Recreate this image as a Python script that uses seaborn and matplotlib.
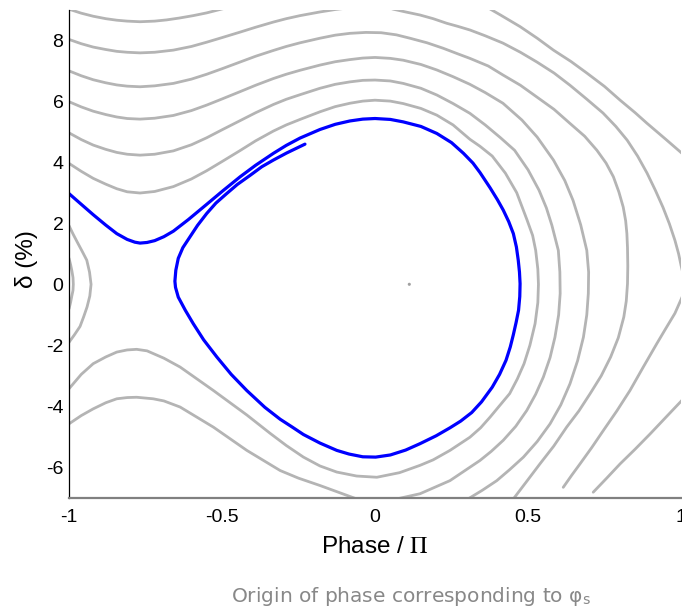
import matplotlib
matplotlib.use("Agg")
import matplotlib.pyplot as plt
import pandas as pd
import seaborn as sns

# Gray phase-space trajectories (phase in units of pi, momentum deviation delta in %)
phase_c1 = [-1.0, -0.96, -0.921, -0.88, -0.844, -0.81, -0.768, -0.72, -0.681, -0.64,
            -0.594, -0.55, -0.507, -0.48]
delta_c1 = [9.01, 8.88, 8.78, 8.70, 8.65, 8.62, 8.60, 8.62, 8.66, 8.72,
            8.80, 8.89, 9.00, 9.07]

phase_c2 = [-1.0, -0.96, -0.921, -0.88, -0.844, -0.81, -0.768, -0.72, -0.659, -0.60,
            -0.55, -0.50, -0.441, -0.39, -0.332, -0.29, -0.245, -0.18, -0.13, -0.082,
            0.0, 0.06, 0.10, 0.147, 0.19, 0.234, 0.27, 0.31, 0.36, 0.418,
            0.475, 0.529, 0.585, 0.637, 0.69, 0.745, 0.787, 0.824, 0.858, 0.889,
            0.916, 0.941, 0.962, 0.98, 0.992, 1.0, 1.01, 1.016, 1.012, 1.003,
            0.98, 0.95, 0.921, 0.876, 0.833, 0.79, 0.746, 0.708, 0.67, 0.643, 0.615]
delta_c2 = [8.02, 7.88, 7.77, 7.69, 7.63, 7.60, 7.58, 7.60, 7.67, 7.79,
            7.93, 8.08, 8.26, 8.42, 8.59, 8.70, 8.80, 8.92, 9.00, 9.06,
            9.20, 9.01, 8.92, 8.82, 8.70, 8.55, 8.45, 8.33, 8.14, 7.90,
            7.60, 7.28, 6.92, 6.52, 6.08, 5.61, 5.17, 4.72, 4.20, 3.64,
            3.08, 2.52, 1.98, 1.44, 1.00, 0.62, 0.20, 0.0, -0.20, -0.43,
            -0.95, -1.45, -1.94, -2.72, -3.48, -4.15, -4.79, -5.35, -5.88, -6.25, -6.65]

phase_c3 = [-1.0, -0.96, -0.921, -0.88, -0.844, -0.81, -0.768, -0.72, -0.659, -0.60,
            -0.55, -0.50, -0.441, -0.39, -0.332, -0.29, -0.245, -0.18, -0.13, -0.082,
            -0.03, 0.02, 0.07, 0.114, 0.17, 0.223, 0.27, 0.31, 0.37, 0.419,
            0.475, 0.528, 0.585, 0.637, 0.685, 0.725, 0.755, 0.779, 0.797, 0.811,
            0.819, 0.823, 0.825, 0.826, 0.825, 0.821, 0.813, 0.795, 0.770, 0.739,
            0.703, 0.666, 0.626, 0.584, 0.539, 0.496, 0.452]
delta_c3 = [6.99, 6.83, 6.70, 6.60, 6.53, 6.49, 6.47, 6.50, 6.58, 6.72,
            6.88, 7.06, 7.28, 7.47, 7.66, 7.79, 7.91, 8.06, 8.16, 8.22,
            8.25, 8.24, 8.17, 8.06, 7.91, 7.73, 7.55, 7.40, 7.15, 6.85,
            6.52, 6.14, 5.73, 5.27, 4.85, 4.39, 3.97, 3.52, 3.02, 2.53,
            2.08, 1.66, 1.20, 0.60, 0.02, -0.55, -1.07, -1.75, -2.38, -3.00,
            -3.58, -4.15, -4.68, -5.30, -5.88, -6.45, -7.03]

phase_c4 = [-1.0, -0.96, -0.921, -0.88, -0.844, -0.81, -0.768, -0.72, -0.659, -0.60,
            -0.55, -0.50, -0.441, -0.39, -0.332, -0.29, -0.245, -0.18, -0.13, -0.082,
            -0.04, 0.0, 0.05, 0.092, 0.15, 0.202, 0.255, 0.31, 0.36, 0.418,
            0.48, 0.53, 0.583, 0.62, 0.647, 0.672, 0.692, 0.698, 0.697, 0.692,
            0.681, 0.662, 0.637, 0.607, 0.572, 0.53, 0.485, 0.44, 0.398, 0.35, 0.304]
delta_c4 = [5.98, 5.81, 5.67, 5.56, 5.48, 5.43, 5.41, 5.44, 5.53, 5.69,
            5.87, 6.07, 6.31, 6.52, 6.74, 6.88, 7.01, 7.18, 7.29, 7.36,
            7.41, 7.43, 7.40, 7.34, 7.20, 7.02, 6.80, 6.55, 6.28, 5.93,
            5.38, 4.82, 4.07, 3.40, 2.75, 1.95, 1.11, 0.40, -0.30, -1.00,
            -1.73, -2.50, -3.26, -3.95, -4.57, -5.15, -5.66, -6.07, -6.43, -6.75, -7.03]

phase_c5 = [-1.0, -0.96, -0.921, -0.88, -0.844, -0.81, -0.768, -0.72, -0.659, -0.60,
            -0.55, -0.50, -0.441, -0.39, -0.332, -0.29, -0.245, -0.18, -0.13, -0.082,
            -0.04, 0.0, 0.05, 0.092, 0.15, 0.202, 0.255, 0.31, 0.36, 0.41,
            0.456, 0.50, 0.536, 0.56, 0.578, 0.599, 0.604, 0.605, 0.600, 0.588,
            0.572, 0.550, 0.525, 0.496, 0.46, 0.419, 0.38, 0.343, 0.245, 0.147,
            0.071, 0.003, -0.06, -0.18, -0.25, -0.31, -0.419, -0.528, -0.637, -0.69,
            -0.725, -0.779, -0.81, -0.844, -0.88, -0.921, -0.96, -1.0]
delta_c5 = [4.96, 4.74, 4.56, 4.42, 4.32, 4.26, 4.23, 4.26, 4.37, 4.57,
            4.80, 5.06, 5.36, 5.62, 5.89, 6.06, 6.21, 6.42, 6.55, 6.63,
            6.68, 6.69, 6.66, 6.58, 6.42, 6.20, 5.92, 5.60, 5.22, 4.80,
            4.39, 3.75, 3.08, 2.50, 1.93, 1.11, 0.40, -0.30, -1.00, -1.73,
            -2.40, -3.04, -3.60, -4.13, -4.65, -5.11, -5.47, -5.77, -6.43, -6.86,
            -7.03, -7.25, -7.03, -6.59, -6.35, -6.10, -5.44, -4.68, -4.02, -3.82,
            -3.75, -3.70, -3.71, -3.75, -3.88, -4.08, -4.30, -4.57]

phase_c6 = [-1.0, -0.96, -0.921, -0.88, -0.844, -0.81, -0.768, -0.72, -0.659, -0.60,
            -0.55, -0.50, -0.441, -0.39, -0.332, -0.29, -0.245, -0.18, -0.13, -0.082,
            -0.04, 0.0, 0.05, 0.092, 0.15, 0.202, 0.255, 0.31, 0.343, 0.383,
            0.426, 0.463, 0.497, 0.515, 0.525, 0.532, 0.534, 0.532, 0.523, 0.506,
            0.487, 0.465, 0.44, 0.405, 0.376, 0.345, 0.31, 0.245, 0.19, 0.147,
            0.08, 0.006, -0.06, -0.125, -0.18, -0.234, -0.29, -0.343, -0.419, -0.528,
            -0.637, -0.69, -0.745, -0.779, -0.81, -0.844, -0.88, -0.921, -0.96, -1.0]
delta_c6 = [3.96, 3.70, 3.47, 3.28, 3.13, 3.03, 2.99, 3.04, 3.20, 3.45,
            3.72, 4.02, 4.38, 4.70, 5.02, 5.22, 5.40, 5.65, 5.82, 5.93,
            6.00, 6.03, 6.00, 5.92, 5.76, 5.54, 5.22, 4.75, 4.52, 4.20,
            3.64, 3.00, 2.10, 1.60, 1.11, 0.50, 0.0, -0.60, -1.29, -2.00,
            -2.60, -3.10, -3.58, -4.00, -4.35, -4.70, -5.01, -5.44, -5.75, -5.93,
            -6.17, -6.32, -6.28, -6.15, -5.95, -5.66, -5.28, -4.88, -4.28, -3.48,
            -2.71, -2.42, -2.18, -2.13, -2.15, -2.22, -2.38, -2.60, -2.95, -3.42]

phase_outer_a = [0.353, 0.41, 0.474, 0.53, 0.583, 0.64, 0.692, 0.75, 0.801, 0.85,
                 0.888, 0.95, 1.003, 1.03]
delta_outer_a = [9.15, 8.82, 8.44, 8.06, 7.67, 7.30, 6.92, 6.48, 6.03, 5.62,
                 5.28, 4.75, 4.29, 4.00]

phase_outer_b = [1.03, 1.003, 0.95, 0.899, 0.85, 0.801, 0.757, 0.713]
delta_outer_b = [-3.50, -3.80, -4.36, -4.90, -5.40, -5.88, -6.35, -6.81]

phase_arc1 = [-1.0, -0.987, -0.974, -0.958, -0.942, -0.933, -0.928, -0.932, -0.941,
              -0.952, -0.964, -0.982, -1.0]
delta_arc1 = [1.92, 1.65, 1.40, 1.10, 0.79, 0.40, 0.0, -0.38, -0.74,
              -1.06, -1.38, -1.65, -1.90]

phase_arc2 = [-1.0, -0.995, -0.991, -0.987, -0.986, -0.987, -0.991, -0.995, -1.0]
delta_arc2 = [0.85, 0.65, 0.46, 0.22, 0.0, -0.20, -0.39, -0.60, -0.80]

# Highlighted particle trajectory
phase_blue = [-1.0, -0.96, -0.921, -0.88, -0.844, -0.81, -0.785, -0.768, -0.745, -0.72,
              -0.69, -0.659, -0.61, -0.55, -0.50, -0.441, -0.39, -0.332, -0.29, -0.245,
              -0.18, -0.13, -0.082, -0.04, 0.0, 0.05, 0.092, 0.15, 0.202, 0.25,
              0.289, 0.32, 0.343, 0.376, 0.40, 0.419, 0.437, 0.452, 0.462, 0.468,
              0.472, 0.474, 0.473, 0.469, 0.461, 0.452, 0.442, 0.428, 0.407, 0.383,
              0.348, 0.316, 0.28, 0.245, 0.20, 0.147, 0.10, 0.05, 0.002, -0.04,
              -0.085, -0.125, -0.18, -0.234, -0.27, -0.31, -0.36, -0.419, -0.47, -0.517,
              -0.56, -0.594, -0.62, -0.643, -0.652, -0.654, -0.651, -0.643, -0.628, -0.605,
              -0.58, -0.55, -0.52, -0.485, -0.45, -0.408, -0.37, -0.332, -0.289, -0.229]
delta_blue = [2.97, 2.62, 2.28, 1.94, 1.66, 1.47, 1.38, 1.35, 1.37, 1.43,
              1.56, 1.74, 2.12, 2.62, 3.04, 3.52, 3.90, 4.29, 4.55, 4.79,
              5.07, 5.24, 5.35, 5.41, 5.43, 5.40, 5.32, 5.17, 4.94, 4.64,
              4.29, 3.97, 3.66, 3.16, 2.77, 2.43, 2.05, 1.66, 1.22, 0.79,
              0.40, 0.02, -0.40, -0.85, -1.25, -1.65, -2.05, -2.49, -2.95, -3.37,
              -3.85, -4.20, -4.48, -4.70, -4.96, -5.22, -5.43, -5.59, -5.66, -5.65,
              -5.56, -5.44, -5.20, -4.92, -4.68, -4.42, -4.03, -3.48, -2.95, -2.38,
              -1.82, -1.29, -0.85, -0.42, -0.10, 0.10, 0.46, 0.85, 1.20, 1.55,
              1.93, 2.32, 2.66, 2.97, 3.27, 3.57, 3.85, 4.07, 4.30, 4.59]

# Synchronous point
phase_sync = [0.112]
delta_sync = [0.0]

x_ticks = [-1, -0.5, 0, 0.5, 1]
x_tick_labels = ["-1", "-0.5", "0", "0.5", "1"]
y_ticks = [-6, -4, -2, 0, 2, 4, 6, 8]
y_tick_labels = ["-6", "-4", "-2", "0", "2", "4", "6", "8"]

gray_curves = {
    "c1": (phase_c1, delta_c1), "c2": (phase_c2, delta_c2), "c3": (phase_c3, delta_c3),
    "c4": (phase_c4, delta_c4), "c5": (phase_c5, delta_c5), "c6": (phase_c6, delta_c6),
    "outer_a": (phase_outer_a, delta_outer_a), "outer_b": (phase_outer_b, delta_outer_b),
    "arc1": (phase_arc1, delta_arc1), "arc2": (phase_arc2, delta_arc2),
}
rows = []
for name, (ph, de) in gray_curves.items():
    for p, d in zip(ph, de):
        rows.append({"curve": name, "phase": p, "delta": d})
gray_df = pd.DataFrame(rows)
blue_df = pd.DataFrame({"phase": phase_blue, "delta": delta_blue, "curve": "blue"})
sync_df = pd.DataFrame({"phase": phase_sync, "delta": delta_sync})

sns.set_theme(style="white")
plt.rcParams["font.family"] = ["Liberation Sans", "DejaVu Sans"]
plt.rcParams["mathtext.fontset"] = "stix"

fig = plt.figure(figsize=(6.82, 6.14), dpi=100)
ax = fig.add_axes([0.1012, 0.1889, 0.8974, 0.7956])

sns.lineplot(data=gray_df, x="phase", y="delta", units="curve", estimator=None, sort=False,
             color="#b4b4b4", linewidth=2.0, solid_capstyle="round",
             solid_joinstyle="round", ax=ax, legend=False)
sns.lineplot(data=blue_df, x="phase", y="delta", units="curve", estimator=None, sort=False,
             color="#0000ff", linewidth=2.3, solid_capstyle="round",
             solid_joinstyle="round", ax=ax, legend=False)
sns.scatterplot(data=sync_df, x="phase", y="delta", color="#a0a0a0", s=5,
                edgecolor="none", ax=ax, legend=False)

ax.set_xlim(-1, 1)
ax.set_ylim(-7, 9)
ax.set_xticks(x_ticks)
ax.set_xticklabels(x_tick_labels)
ax.set_yticks(y_ticks)
ax.set_yticklabels(y_tick_labels)
ax.tick_params(axis="both", direction="in", length=3.6, width=0.8, color="black",
               labelsize=14, labelcolor="black")
ax.tick_params(axis="x", pad=8)
ax.tick_params(axis="y", pad=4)

for side in ("top", "right"):
    ax.spines[side].set_visible(False)
ax.spines["left"].set_color("black")
ax.spines["left"].set_linewidth(0.9)
ax.spines["bottom"].set_color("#808080")
ax.spines["bottom"].set_linewidth(1.6)

ax.set_xlabel(r"Phase / $\Pi$", fontsize=17.5, color="black")
ax.set_ylabel("δ (%)", fontsize=17.5, color="black")
ax.xaxis.set_label_coords(0.5, -0.078)
ax.yaxis.set_label_coords(-0.05, 0.49)

fig.text(411 / 682, 1 - 597 / 614, "Origin of phase corresponding to φ$_{\\mathregular{s}}$",
         ha="center", va="center", color="#888888", fontsize=14.5,
         family=["DejaVu Sans"])

fig.savefig("out.png", dpi=100)
